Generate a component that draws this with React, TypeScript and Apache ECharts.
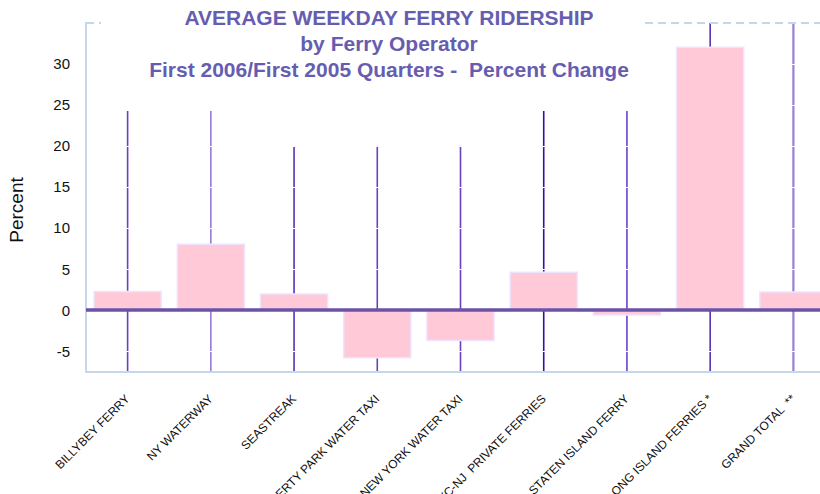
import React, { useEffect, useRef } from "react";
import * as echarts from "echarts";

const categories = [
  "BILLYBEY FERRY",
  "NY WATERWAY",
  "SEASTREAK",
  "LIBERTY PARK WATER TAXI",
  "NEW YORK WATER TAXI",
  "NYC-NJ  PRIVATE FERRIES",
  "STATEN ISLAND FERRY",
  "LONG ISLAND FERRIES *",
  "GRAND TOTAL  **",
];
const percentChange = [2.35, 8.1, 2.05, -5.9, -3.8, 4.7, -0.7, 32.1, 2.3];
const dropLineTop = [24.25, 24.25, 20, 20, 20, 24.25, 24.25, 35, 35];
const dropLineColors = [
  "#6b3fc0",
  "#9a78d6",
  "#5a30b8",
  "#6b3fc0",
  "#6b3fc0",
  "#3a0f9a",
  "#6e3fc8",
  "#5a30b0",
  "#9b7fd4",
];
const Y_MIN = -7.5;
const Y_MAX = 35;
const Y_STEP = 2.5;
const titleLines = [
  "AVERAGE WEEKDAY FERRY RIDERSHIP",
  "by Ferry Operator",
  "First 2006/First 2005 Quarters -  Percent Change",
];

const FONT = "'Liberation Sans', Arial, sans-serif";
const CHART_W = 840;

export default function App() {
  const ref = useRef<HTMLDivElement>(null);
  useEffect(() => {
    if (!ref.current) return;
    const chart = echarts.init(ref.current, null, { renderer: "svg" });
    chart.setOption({
      animation: false,
      backgroundColor: "#ffffff",
      grid: {
        left: 86,
        width: 749,
        top: 22.7,
        bottom: 122.3,
        containLabel: false,
        outerBoundsMode: "none",
      },
      xAxis: {
        type: "category",
        data: categories,
        z: 3,
        axisLine: { show: true, onZero: false, lineStyle: { color: "#c6d7ea", width: 2 } },
        axisTick: { show: false },
        axisLabel: {
          interval: 0,
          rotate: 45,
          fontSize: 12,
          color: "#111",
          fontFamily: FONT,
          margin: 25,
        },
        splitLine: { show: false },
      },
      yAxis: {
        type: "value",
        min: Y_MIN,
        max: Y_MAX,
        interval: Y_STEP,
        z: 3,
        axisLine: { show: true, lineStyle: { color: "#c8d8ec", width: 2 } },
        axisTick: { show: false },
        axisLabel: {
          fontSize: 15,
          color: "#111",
          fontFamily: FONT,
          margin: 16,
          formatter: (v: number) => (v % 5 === 0 && v < Y_MAX ? String(v) : ""),
        },
        splitLine: {
          show: true,
          lineStyle: { color: ["rgba(255,255,255,0)", "#ffffff"], width: 1 },
        },
      },
      series: [
        {
          type: "custom",
          z: 1,
          silent: true,
          data: dropLineTop.map((v, i) => [i, v]),
          encode: { x: 0, y: 1 },
          renderItem: (params: any, api: any) => {
            const i = api.value(0);
            const top = api.coord([i, api.value(1)]);
            const bottom = api.coord([i, Y_MIN]);
            return {
              type: "line",
              shape: { x1: top[0], y1: top[1], x2: bottom[0], y2: bottom[1] },
              style: {
                stroke: dropLineColors[params.dataIndex],
                lineWidth: params.dataIndex === 8 ? 2.2 : 1.6,
              },
            };
          },
        },
        {
          type: "bar",
          z: 4,
          data: percentChange,
          barCategoryGap: "17.5%",
          itemStyle: { color: "#ffc9d8", borderColor: "#efe4ff", borderWidth: 1.5 },
          markLine: {
            silent: true,
            symbol: ["none", "none"],
            label: { show: false },
            data: [
              { yAxis: 0, lineStyle: { color: "#6a52a8", width: 3.5, type: "solid" } },
              { yAxis: Y_MAX, lineStyle: { color: "#c3d6ea", width: 2, type: [8, 5] } },
            ],
          },
        },
      ],
      graphic: [
        {
          type: "rect",
          z: 100,
          silent: true,
          shape: { x: 101, y: 0, width: 539, height: 42 },
          style: { fill: "#ffffff" },
        },
        {
          type: "text",
          z: 101,
          silent: true,
          style: {
            text: titleLines.join("\n"),
            x: 389,
            y: 4,
            textAlign: "center",
            textVerticalAlign: "top",
            fontSize: 21,
            fontWeight: "bold",
            fontFamily: FONT,
            lineHeight: 26,
            fill: "#675db0",
          },
        },
        {
          type: "text",
          z: 101,
          silent: true,
          x: 16,
          y: 210,
          rotation: Math.PI / 2,
          style: {
            text: "Percent",
            x: 0,
            y: 0,
            textAlign: "center",
            textVerticalAlign: "middle",
            fontSize: 19,
            fontFamily: FONT,
            fill: "#111",
          },
        },
      ],
    });
    return () => chart.dispose();
  }, []);
  return (
    <div
      style={{
        position: "fixed",
        left: 0,
        top: 0,
        width: 820,
        height: 494,
        overflow: "hidden",
        background: "#fff",
      }}
    >
      <div ref={ref} style={{ width: CHART_W, height: 494 }} />
    </div>
  );
}
